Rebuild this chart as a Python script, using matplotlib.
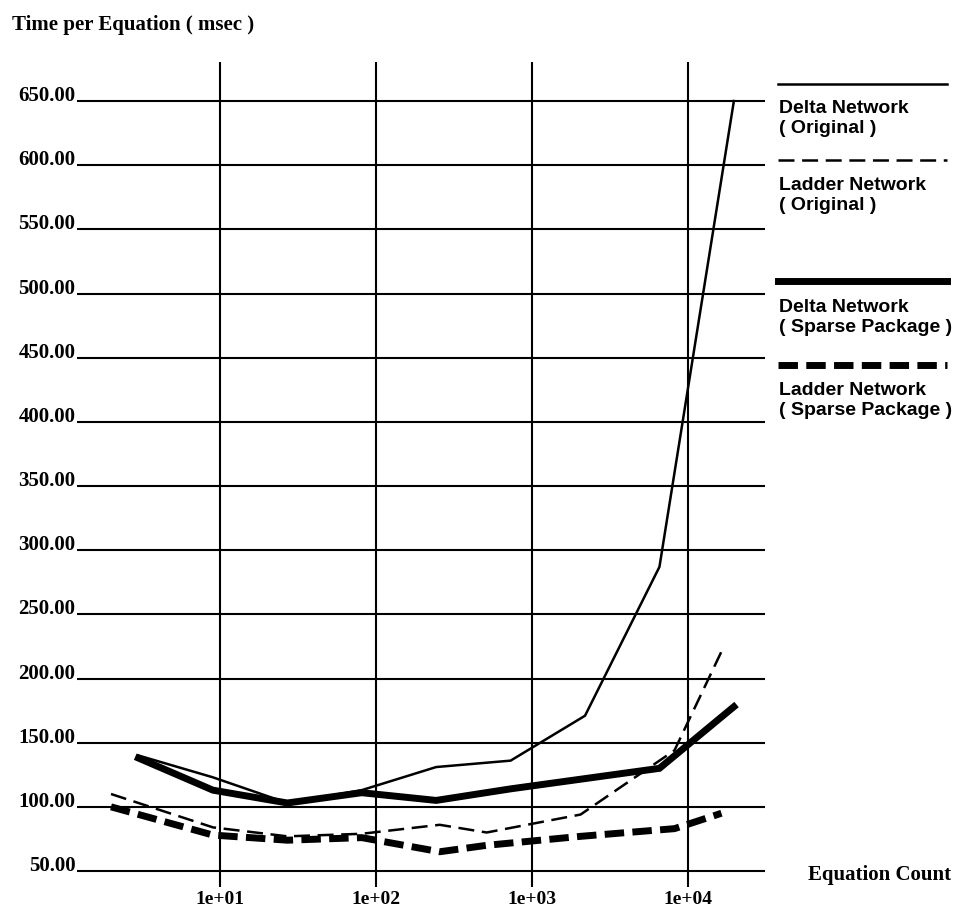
import matplotlib
matplotlib.use("Agg")
import matplotlib.pyplot as plt
from matplotlib.lines import Line2D
from matplotlib.font_manager import FontProperties

plt.rcParams["lines.scale_dashes"] = False

# Equation counts used for each network family
delta_counts = [3, 9, 27, 81, 243, 729, 2187, 6561, 19683]
ladder_counts = [2, 9, 27, 81, 256, 512, 2048, 8192, 16384]

# Time per equation (msec)
delta_original = [140, 123, 103, 113, 131, 136, 171, 287, 650]
delta_sparse = [138, 113, 103, 111, 105, 114, 122, 130, 178]
ladder_original = [110, 84, 77, 79, 86, 80, 94, 144, 221]
ladder_sparse = [100, 78, 74, 76, 65, 70, 77, 83, 95]

y_ticks = [50, 100, 150, 200, 250, 300, 350, 400, 450, 500, 550, 600, 650]
x_ticks = [10, 100, 1000, 10000]
x_tick_labels = ["1e+01", "1e+02", "1e+03", "1e+04"]

legend_labels = [
    "Delta Network\n( Original )",
    "Ladder Network\n( Original )",
    "Delta Network\n( Sparse Package )",
    "Ladder Network\n( Sparse Package )",
]

W, H = 962, 910
fig = plt.figure(figsize=(W / 100, H / 100), dpi=100)
fig.patch.set_facecolor("white")

def fx(px):
    return px / W

def fy(py):
    return 1 - py / H

ax = fig.add_axes([fx(77), fy(887), fx(765) - fx(77), fy(62) - fy(887)])
ax.set_xscale("log")
ax.set_xlim(1.211, 31160)
ax.set_ylim(37.53, 680.4)
for s in ax.spines.values():
    s.set_visible(False)

ax.set_xticks(x_ticks)
ax.set_xticklabels(x_tick_labels)
ax.xaxis.set_minor_locator(matplotlib.ticker.NullLocator())
ax.set_yticks(y_ticks)
ax.set_yticklabels([f"{v:.2f}" for v in y_ticks])
ax.tick_params(axis="both", length=0)
ax.tick_params(axis="y", pad=1)
ax.tick_params(axis="x", pad=3)

serif = dict(family="Liberation Serif", weight="bold", size=15)
for lab in ax.get_yticklabels():
    lab.set_fontproperties(FontProperties(**serif))
    lab.set_va("baseline")
for lab in ax.get_xticklabels():
    lab.set_fontproperties(FontProperties(family="Liberation Serif", weight="bold", size=14))

ax.grid(True, which="major", color="black", linewidth=1.5)
ax.set_axisbelow(True)

thin = 1.8
thick = 5.0
thin_dash = (0, (11.5, 5.5))
thick_dash = (0, (14, 6))

ax.plot(delta_counts, delta_original, color="black", lw=thin, solid_joinstyle="miter")
ax.plot(ladder_counts, ladder_original, color="black", lw=thin, linestyle=thin_dash,
        dash_capstyle="butt")
ax.plot(delta_counts, delta_sparse, color="black", lw=thick, solid_joinstyle="miter")
ax.plot(ladder_counts, ladder_sparse, color="black", lw=thick, linestyle=thick_dash,
        dash_capstyle="butt")

fig.text(fx(12), fy(30), "Time per Equation ( msec )", va="baseline", ha="left", **serif)
fig.text(fx(808), fy(875), "Equation Count", va="center", ha="left", **serif)

# Legend samples and captions
styles = [
    dict(lw=thin, linestyle="-"),
    dict(lw=thin, linestyle=thin_dash),
    dict(lw=thick, linestyle="-"),
    dict(lw=thick, linestyle=thick_dash),
]
sample_y = [84, 160, 281, 365]
caption_y = [113, 190, 312, 395]
sans = dict(family="Liberation Sans", weight="bold", size=14)
for st, sy, cy, lab in zip(styles, sample_y, caption_y, legend_labels):
    fig.add_artist(Line2D([fx(778), fx(947)], [fy(sy), fy(sy)], transform=fig.transFigure,
                          color="black", dash_capstyle="butt", **st))
    first, second = lab.split("\n")
    fig.text(fx(779), fy(cy), first, va="baseline", ha="left", **sans)
    fig.text(fx(779), fy(cy + 20), second, va="baseline", ha="left", **sans)

fig.savefig("out.png", dpi=100, facecolor="white")
